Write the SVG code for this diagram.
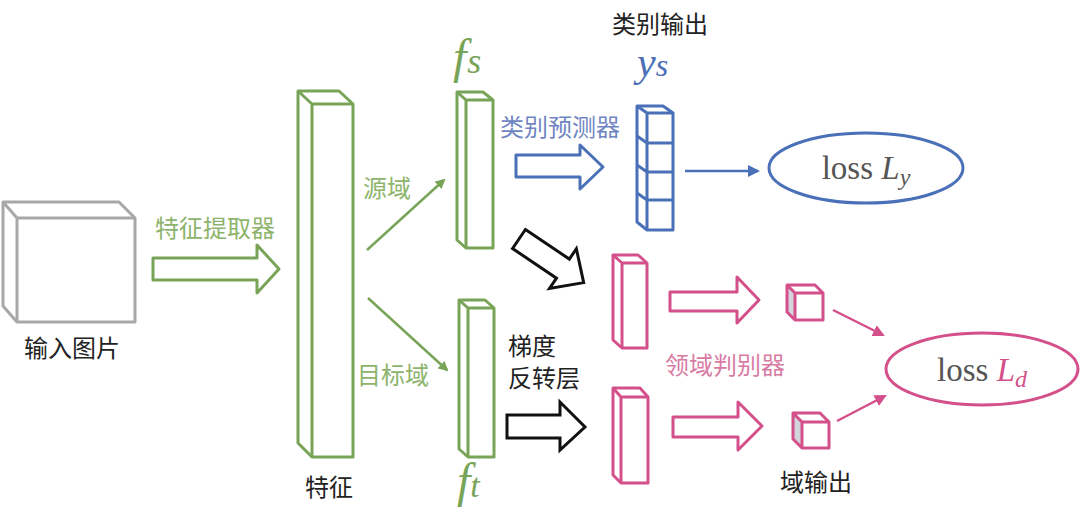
<svg xmlns="http://www.w3.org/2000/svg" width="1080" height="527" viewBox="0 0 1080 527">
<defs>
<style>
.cn{font-family:"Noto Sans CJK SC","Noto Sans",sans-serif;font-size:24px}
.math{font-family:"Liberation Serif","DejaVu Serif",serif}
.g{stroke:#78a458;stroke-width:3;fill:none;stroke-linejoin:round}
.gf{stroke:#78a458;stroke-width:3;fill:#fff;stroke-linejoin:round}
.b{stroke:#4a70b8;stroke-width:3;fill:#fff;stroke-linejoin:round}
.p{stroke:#d4508a;stroke-width:3;fill:#fff;stroke-linejoin:round}
.k{stroke:#111;stroke-width:3;fill:#fff;stroke-linejoin:miter}
.side{fill:#d4d4dc}
</style>
<marker id="mg" markerWidth="10" markerHeight="10" refX="8" refY="5" orient="auto" markerUnits="userSpaceOnUse" viewBox="0 0 10 10"><path d="M0,0 L10,5 L0,10 Z" fill="#78a458"/></marker>
<marker id="mb" markerWidth="12" markerHeight="12" refX="10" refY="6" orient="auto" markerUnits="userSpaceOnUse" viewBox="0 0 12 12"><path d="M0,0 L12,6 L0,12 Z" fill="#4a70b8"/></marker>
<marker id="mp" markerWidth="12" markerHeight="12" refX="10" refY="6" orient="auto" markerUnits="userSpaceOnUse" viewBox="0 0 12 12"><path d="M0,0 L12,6 L0,12 Z" fill="#d4508a"/></marker>
</defs>
<rect width="1080" height="527" fill="#fff"/>

<g id="input">
<path d="M3,202 L119,202 L135,218 L135,322 L17,322 L3,306 Z" fill="#fff" stroke="#a8a8a8" stroke-width="3" stroke-linejoin="round"/>
<path d="M3,202 L17,218 L135,218 M17,218 L17,322" fill="none" stroke="#a8a8a8" stroke-width="3"/>
<text class="cn" x="72" y="357" text-anchor="middle" fill="#222" font-size="24">输入图片</text>
</g>

<g id="feature">
<path class="gf" d="M298,91 L339,91 L353,104 L353,457 L312,457 L298,443 Z"/>
<path class="g" d="M298,91 L312,104 L353,104 M312,104 L312,457"/>
<text class="cn" x="329" y="496" text-anchor="middle" fill="#222" font-size="24">特征</text>
</g>

<g id="fs">
<path class="gf" d="M457,92 L483,92 L493,100 L493,248 L466,248 L457,240 Z"/>
<path class="g" d="M457,92 L466,100 L493,100 M466,100 L466,248"/>
<text class="math" x="453" y="73" font-size="48" font-style="italic" fill="#78a458">f<tspan font-size="36" dx="1">s</tspan></text>
</g>

<g id="ft">
<path class="gf" d="M459,300 L485,300 L494,308 L494,457 L468,457 L459,449 Z"/>
<path class="g" d="M459,300 L468,308 L494,308 M468,308 L468,457"/>
<text class="math" x="457" y="497" font-size="48" font-style="italic" fill="#78a458">f<tspan font-size="34" dx="0">t</tspan></text>
</g>

<g id="class-out">
<path class="side" d="M637,106 L647,113 L647,230 L637,222 Z"/>
<path class="b" d="M637,106 L663,106 L673,113 L673,230 L647,230 L637,222 Z"/>
<path class="b" style="fill:none" d="M637,106 L647,113 L673,113 M647,113 L647,230 M647,143 L673,143 M637,136 L647,143 M647,172 L673,172 M637,165 L647,172 M647,200 L673,200 M637,193 L647,200"/>
<text class="cn" x="660" y="33" text-anchor="middle" fill="#222" font-size="24">类别输出</text>
<text class="math" x="637" y="76" font-size="42" font-style="italic" fill="#4a70b8">y<tspan font-size="32">s</tspan></text>
</g>

<g id="loss-y">
<ellipse cx="866" cy="168" rx="97" ry="35" fill="#fff" stroke="#4a70b8" stroke-width="3"/>
<text class="math" x="866" y="179" text-anchor="middle" font-size="33" fill="#555">loss <tspan font-style="italic">L</tspan><tspan font-style="italic" font-size="24" dy="6">y</tspan></text>
</g>

<g id="dom1">
<path class="p" d="M613,255 L638,255 L647,263 L647,348 L622,348 L613,340 Z"/>
<path class="p" style="fill:none" d="M613,255 L622,263 L647,263 M622,263 L622,348"/>
</g>
<g id="dom2">
<path class="p" d="M613,388 L640,388 L648,397 L648,483 L621,483 L613,475 Z"/>
<path class="p" style="fill:none" d="M613,388 L621,397 L648,397 M621,397 L621,483"/>
</g>

<g id="dout1">
<path class="side" d="M787,285 L795,293 L795,320 L787,312 Z"/>
<path class="p" style="fill:none" d="M787,285 L815,285 L823,293 L823,320 L795,320 L787,312 Z M787,285 L795,293 L823,293 M795,293 L795,320"/>
</g>
<g id="dout2">
<path class="side" d="M793,413 L802,422 L802,448 L793,439 Z"/>
<path class="p" style="fill:none" d="M793,413 L820,413 L829,422 L829,448 L802,448 L793,439 Z M793,413 L802,422 L829,422 M802,422 L802,448"/>
<text class="cn" x="816" y="491" text-anchor="middle" fill="#222" font-size="23">域输出</text>
</g>

<g id="loss-d">
<ellipse cx="982" cy="369" rx="96" ry="36" fill="#fff" stroke="#d4508a" stroke-width="3"/>
<text class="math" x="982" y="381" text-anchor="middle" font-size="33" fill="#555">loss <tspan font-style="italic" fill="#d4508a">L</tspan><tspan font-style="italic" font-size="24" dy="6" fill="#d4508a">d</tspan></text>
</g>

<g id="connectors">
<path class="g" d="M153,258 L257,258 L257,245 L279,269 L257,293 L257,280 L153,280 Z"/>
<path class="b" d="M516,155 L580,155 L580,145 L603,167 L580,189 L580,177 L516,177 Z"/>
<path class="k" d="M507,415 L560,415 L560,402 L585,427 L560,450 L560,438 L507,438 Z"/>
<path class="k" transform="translate(519,239) rotate(34)" d="M0,-11.5 L53,-11.5 L53,-24 L78,0 L53,24 L53,11.5 L0,11.5 Z"/>
<path class="p" d="M670,292 L737,292 L737,277 L759,300 L737,323 L737,311 L670,311 Z"/>
<path class="p" d="M673,417 L738,417 L738,402 L762,426 L738,450 L738,437 L673,437 Z"/>
<line x1="367" y1="250" x2="444" y2="180" stroke="#78a458" stroke-width="2.5" marker-end="url(#mg)"/>
<line x1="368" y1="298" x2="447" y2="370" stroke="#78a458" stroke-width="2.5" marker-end="url(#mg)"/>
<line x1="685" y1="171" x2="758" y2="171" stroke="#4a70b8" stroke-width="2.5" marker-end="url(#mb)"/>
<line x1="833" y1="310" x2="883" y2="335" stroke="#d4508a" stroke-width="2.5" marker-end="url(#mp)"/>
<line x1="837" y1="421" x2="885" y2="396" stroke="#d4508a" stroke-width="2.5" marker-end="url(#mp)"/>
<text class="cn" x="215" y="237" text-anchor="middle" fill="#8db46c" font-size="25">特征提取器</text>
<text class="cn" x="387" y="197" text-anchor="middle" fill="#8db46c" font-size="24">源域</text>
<text class="cn" x="393" y="384" text-anchor="middle" fill="#8db46c" font-size="23">目标域</text>
<text class="cn" x="560" y="136" text-anchor="middle" fill="#6f86c2" font-size="25">类别预测器</text>
<text class="cn" x="725" y="374" text-anchor="middle" fill="#d77ba4" font-size="25">领域判别器</text>
<text class="cn" x="508" y="355" fill="#222" font-size="23">梯度</text>
<text class="cn" x="508" y="387" fill="#222" font-size="23">反转层</text>
</g>
</svg>
